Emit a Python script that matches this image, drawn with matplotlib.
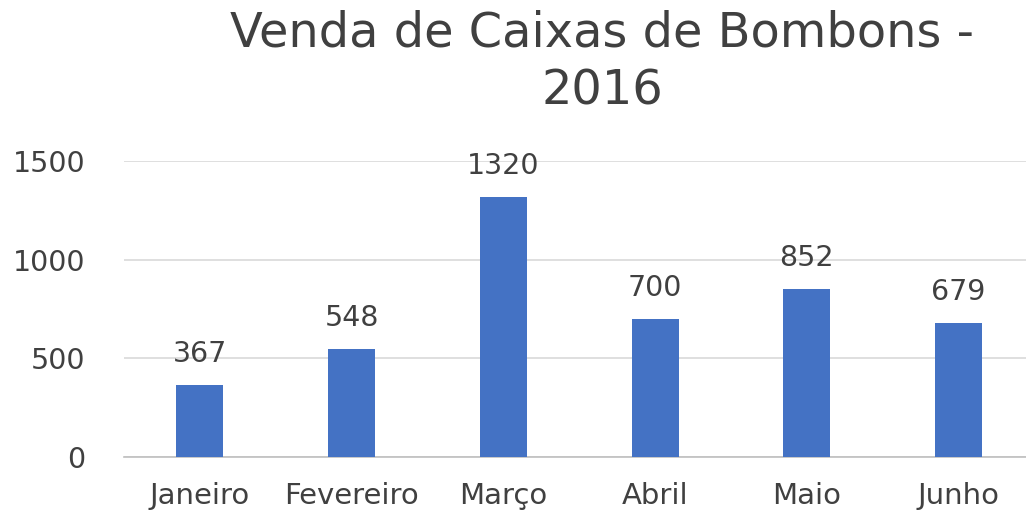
import matplotlib.pyplot as plt

meses = ["Janeiro", "Fevereiro", "Março", "Abril", "Maio", "Junho"]
vendas = [367, 548, 1320, 700, 852, 679]
yticks = [0, 500, 1000, 1500]

plt.rcParams['font.family'] = ['DejaVu Sans']
txt = '#404040'

fig = plt.figure(figsize=(10.26, 5.13), dpi=100)
ax = fig.add_axes([0.121, 0.109, 0.887, 0.577])

x = range(len(meses))
bars = ax.bar(x, vendas, width=0.31, color='#4472C4', zorder=3)
for b, v in zip(bars, vendas):
    ax.annotate(str(v), (b.get_x() + b.get_width() / 2, v), xytext=(0, 12),
                textcoords='offset points', ha='center', va='bottom',
                fontsize=20.5, color=txt)

ax.set_ylim(0, 1500)
ax.set_xlim(-0.5, len(meses) - 0.5)
ax.set_yticks(yticks)
ax.set_xticks(list(x))
ax.set_xticklabels(meses)
ax.tick_params(axis='both', length=0, labelcolor=txt)
ax.tick_params(axis='y', pad=28, labelsize=20.5)
ax.tick_params(axis='x', pad=18, labelsize=21)
ax.grid(axis='y', color='#d9d9d9', linewidth=1.2, zorder=0)
for s in ['top', 'right', 'left']:
    ax.spines[s].set_visible(False)
ax.spines['bottom'].set_color('#bfbfbf')
ax.spines['bottom'].set_linewidth(1.2)

fig.text(0.587, 0.982, "Venda de Caixas de Bombons -\n2016", ha='center', va='top',
         fontsize=34.5, color=txt, linespacing=1.3)

fig.savefig('out.png', dpi=100)
